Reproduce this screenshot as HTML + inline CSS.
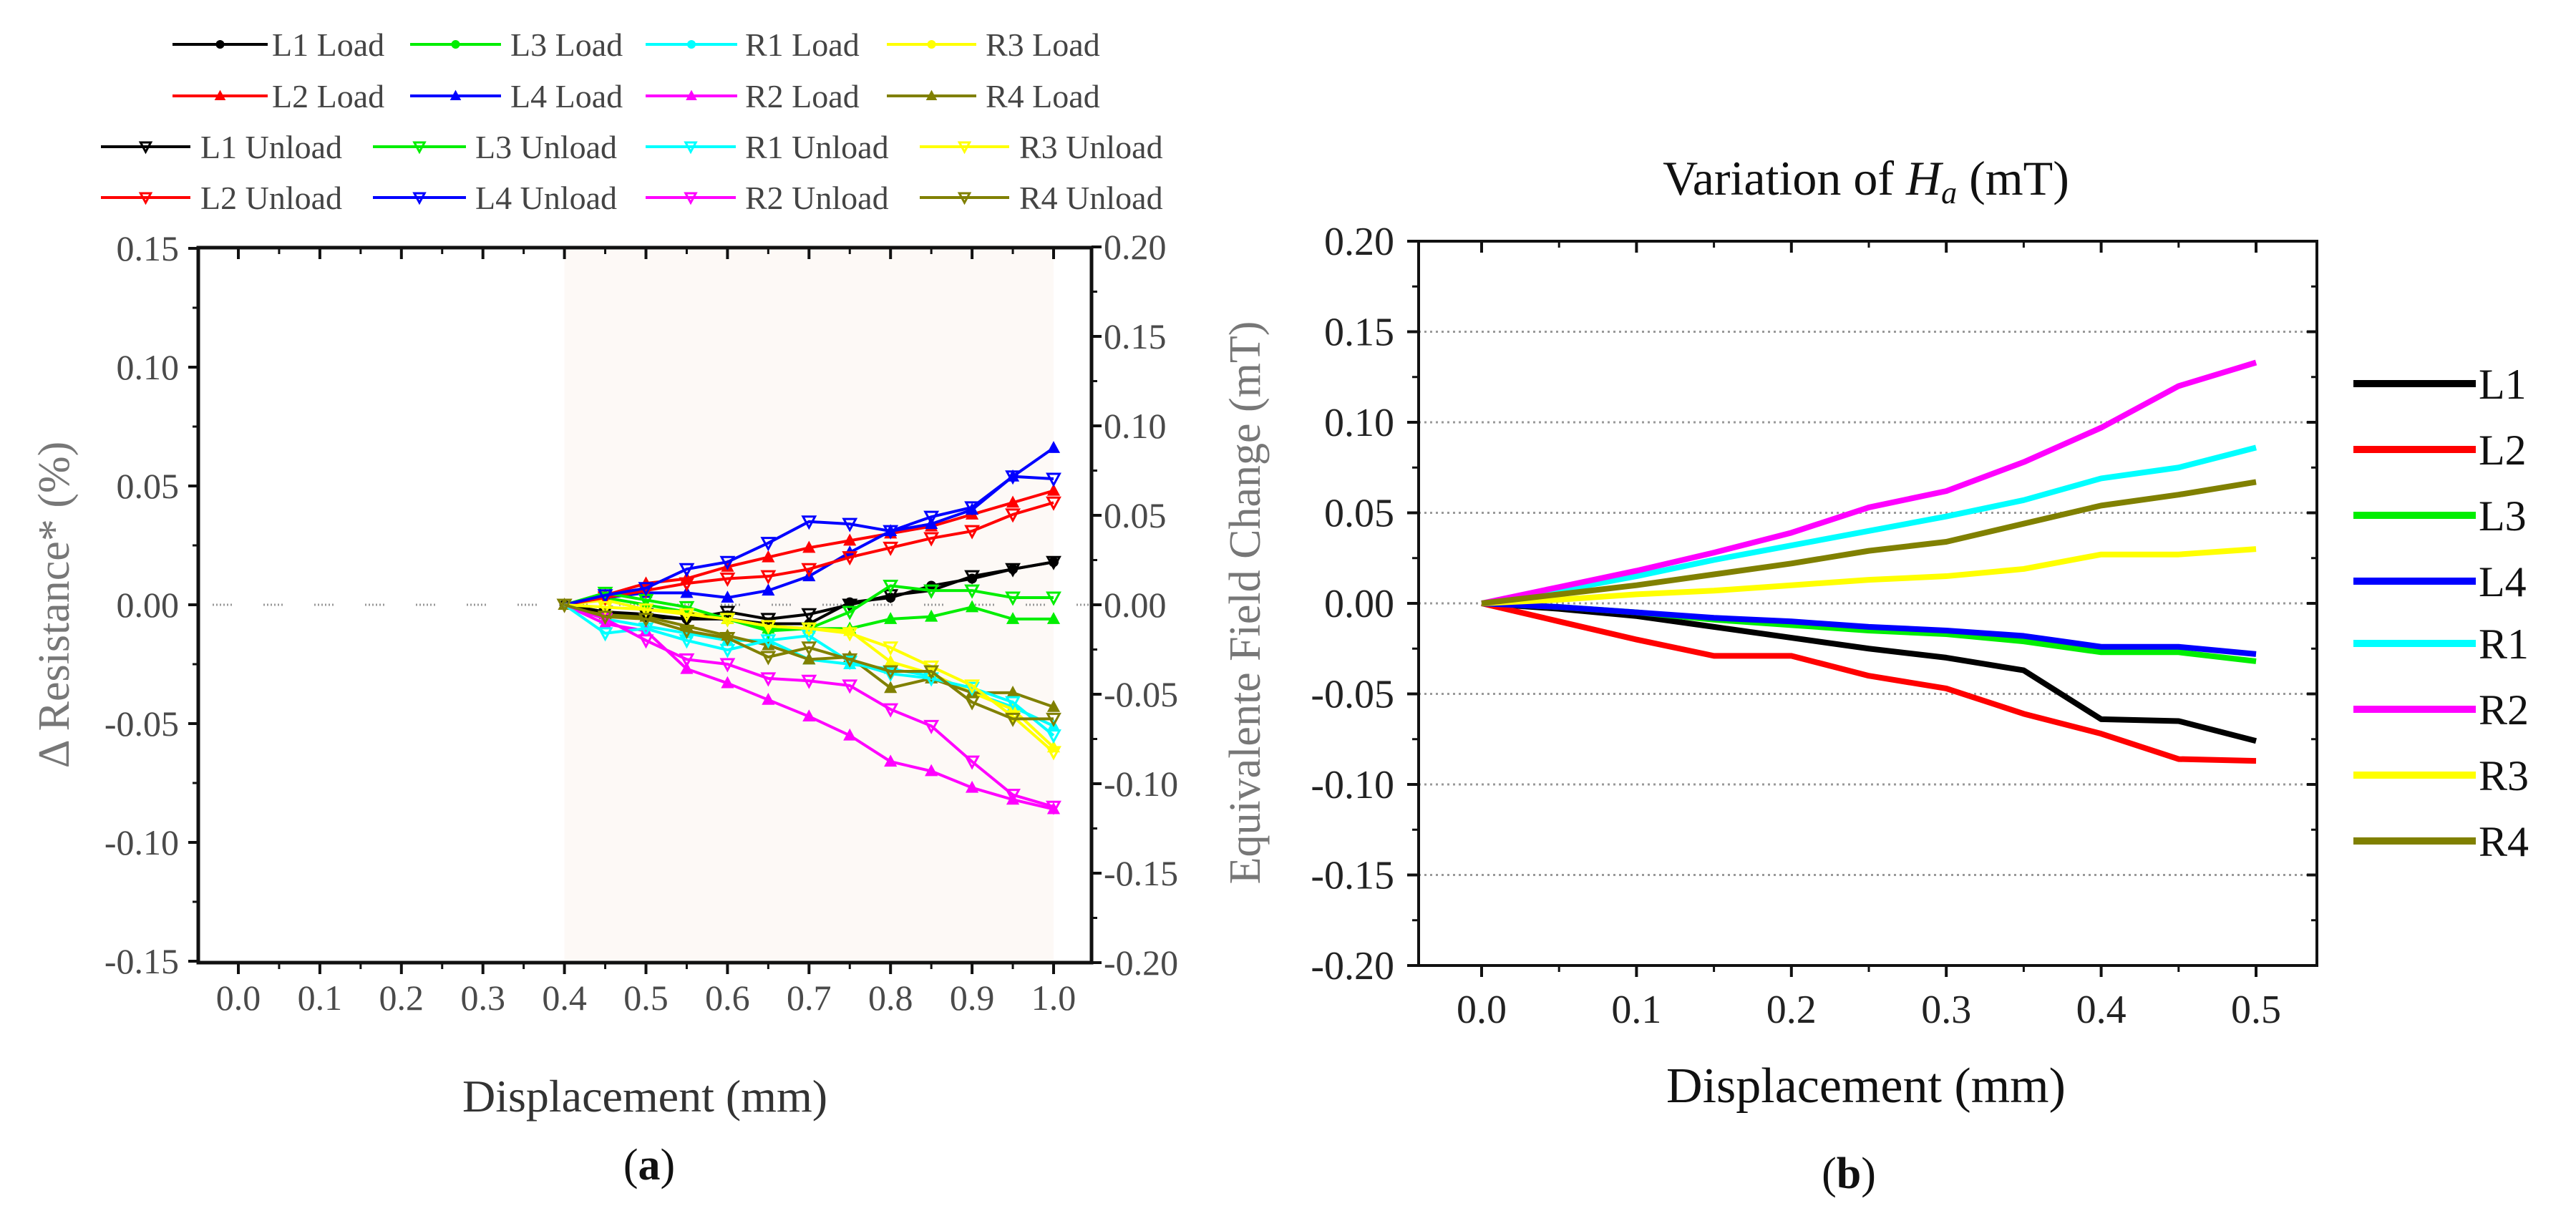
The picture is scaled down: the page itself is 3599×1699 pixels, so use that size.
<!DOCTYPE html>
<html><head><meta charset="utf-8"><style>
html,body{margin:0;padding:0;background:#fff;}
svg{display:block;font-family:"Liberation Serif",serif;}
</style></head><body>
<svg id="fig" width="3599" height="1699" viewBox="0 0 3599 1699" xmlns="http://www.w3.org/2000/svg">
<g id="ga"></g>
<g id="gb"></g>
</svg>
<script>
// ---------- Chart A data ----------
const aX = [0.4,0.45,0.5,0.55,0.6,0.65,0.7,0.75,0.8,0.85,0.9,0.95,1.0];
const aL1Load   = [0,-0.003,-0.005,-0.006,-0.006,-0.008,-0.008,0.001,0.003,0.008,0.011,0.015,0.018];
const aL1Unload = [0,-0.003,-0.004,-0.006,-0.003,-0.006,-0.004,0,0.004,0.006,0.012,0.015,0.018];
const aL2Load   = [0,0.004,0.009,0.011,0.016,0.020,0.024,0.027,0.030,0.033,0.038,0.043,0.048];
const aL2Unload = [0,0.003,0.006,0.009,0.011,0.012,0.015,0.020,0.024,0.028,0.031,0.038,0.043];
const aL3Load   = [0,0.003,0,-0.003,-0.006,-0.010,-0.010,-0.010,-0.006,-0.005,-0.001,-0.006,-0.006];
const aL3Unload = [0,0.005,0.002,-0.001,-0.006,-0.011,-0.010,-0.003,0.008,0.006,0.006,0.003,0.003];
const aL4Load   = [0,0.003,0.005,0.005,0.003,0.006,0.012,0.022,0.031,0.034,0.040,0.054,0.066];
const aL4Unload = [0,0.004,0.007,0.015,0.018,0.026,0.035,0.034,0.031,0.037,0.041,0.054,0.053];
const aR1Load   = [0,-0.006,-0.009,-0.012,-0.015,-0.015,-0.023,-0.025,-0.027,-0.030,-0.037,-0.043,-0.051];
const aR1Unload = [0,-0.012,-0.010,-0.015,-0.019,-0.015,-0.013,-0.024,-0.029,-0.031,-0.035,-0.041,-0.055];
const aR2Load   = [0,-0.008,-0.011,-0.027,-0.033,-0.040,-0.047,-0.055,-0.066,-0.070,-0.077,-0.082,-0.086];
const aR2Unload = [0,-0.006,-0.015,-0.023,-0.025,-0.031,-0.032,-0.034,-0.044,-0.051,-0.066,-0.080,-0.085];
const aR3Load   = [0,0.002,-0.002,-0.003,-0.006,-0.009,-0.010,-0.011,-0.024,-0.029,-0.037,-0.044,-0.060];
const aR3Unload = [0,-0.001,-0.002,-0.004,-0.006,-0.009,-0.010,-0.012,-0.018,-0.026,-0.034,-0.047,-0.062];
const aR4Load   = [0,-0.004,-0.005,-0.009,-0.013,-0.017,-0.023,-0.022,-0.035,-0.031,-0.037,-0.037,-0.043];
const aR4Unload = [0,-0.005,-0.006,-0.011,-0.014,-0.022,-0.018,-0.023,-0.028,-0.028,-0.041,-0.048,-0.048];
const aXTicks = ["0.0","0.1","0.2","0.3","0.4","0.5","0.6","0.7","0.8","0.9","1.0"];
const aYTicks = ["0.15","0.10","0.05","0.00","-0.05","-0.10","-0.15"];
const aY2Ticks = ["0.20","0.15","0.10","0.05","0.00","-0.05","-0.10","-0.15","-0.20"];

// ---------- Chart B data ----------
const bX = [0,0.05,0.1,0.15,0.2,0.25,0.3,0.35,0.4,0.45,0.5];
const bL1 = [0,-0.003,-0.007,-0.013,-0.019,-0.025,-0.030,-0.037,-0.064,-0.065,-0.076];
const bL2 = [0,-0.010,-0.020,-0.029,-0.029,-0.040,-0.047,-0.061,-0.072,-0.086,-0.087];
const bL3 = [0,-0.002,-0.005,-0.009,-0.012,-0.015,-0.017,-0.021,-0.027,-0.027,-0.032];
const bL4 = [0,-0.002,-0.005,-0.008,-0.010,-0.013,-0.015,-0.018,-0.024,-0.024,-0.028];
const bR1 = [0,0.007,0.015,0.024,0.032,0.040,0.048,0.057,0.069,0.075,0.086];
const bR2 = [0,0.009,0.018,0.028,0.039,0.053,0.062,0.078,0.097,0.120,0.133];
const bR3 = [0,0.002,0.005,0.007,0.010,0.013,0.015,0.019,0.027,0.027,0.030];
const bR4 = [0,0.005,0.010,0.016,0.022,0.029,0.034,0.044,0.054,0.060,0.067];
const bXTicks = ["0.0","0.1","0.2","0.3","0.4","0.5"];
const bYTicks = ["0.20","0.15","0.10","0.05","0.00","-0.05","-0.10","-0.15","-0.20"];

const NS="http://www.w3.org/2000/svg";
function mk(parent, tag, attrs, text){
  const e=document.createElementNS(NS,tag);
  for(const k in attrs) e.setAttribute(k,attrs[k]);
  if(text!==undefined) e.textContent=text;
  parent.appendChild(e); return e;
}

// ===== Chart A =====
const ga=document.getElementById('ga');
const AL=277, AR=1525, AT=346, AB=1345;
const ax=v=>333+(v-0)*(1472-333)/1.0;
const ay=v=>845-v*(166/0.05);
const ay2=v=>845-v*(125/0.05);
const gray="#4a4a4a";

let r=mk(ga,'rect',{x:ax(0.4),y:AT,width:ax(1.0)-ax(0.4),height:AB-AT,fill:'#fdf9f6'});


let zl=mk(ga,'line',{x1:AL+20,y1:ay(0),x2:AR,y2:ay(0),stroke:'#999','stroke-width':3,'stroke-dasharray':'2 3 2 3 2 3 2 3 2 3 2 44'});



const aSeries=[
 ['l1-load',aL1Load,'#000','dot'],['l2-load',aL2Load,'#ff0000','up'],['l3-load',aL3Load,'#00ee00','up'],['l4-load',aL4Load,'#0000ff','up'],
 ['r1-load',aR1Load,'#00ffff','up'],['r2-load',aR2Load,'#ff00ff','up'],['r3-load',aR3Load,'#ffff00','up'],['r4-load',aR4Load,'#808000','up'],
 ['l1-unload',aL1Unload,'#000','down'],['l2-unload',aL2Unload,'#ff0000','down'],['l3-unload',aL3Unload,'#00ee00','down'],['l4-unload',aL4Unload,'#0000ff','down'],
 ['r1-unload',aR1Unload,'#00ffff','down'],['r2-unload',aR2Unload,'#ff00ff','down'],['r3-unload',aR3Unload,'#ffff00','down'],['r4-unload',aR4Unload,'#808000','down']
];
function marker(g,x,y,c,t,s){
  if(t==='dot') return mk(g,'circle',{cx:x,cy:y,r:s*0.5,fill:c});
  if(t==='up') return mk(g,'path',{d:`M${x},${y-s*0.7}L${x+s*0.65},${y+s*0.5}L${x-s*0.65},${y+s*0.5}Z`,fill:c});
  return mk(g,'path',{d:`M${x-s*0.6},${y-s*0.5}L${x+s*0.6},${y-s*0.5}L${x},${y+s*0.6}Z`,fill:'none',stroke:c,'stroke-width':3});
}
aSeries.forEach(([n,vals,c,t])=>{
  const g=mk(ga,'g',{});
  
  
  const pts=vals.map((v,i)=>ax(aX[i])+','+ay(v)).join(' ');
  mk(g,'polyline',{points:pts,fill:'none',stroke:c,'stroke-width':4});
  vals.forEach((v,i)=>marker(g,ax(aX[i]),ay(v),c,t,14));
});

// frame & ticks
let fa=mk(ga,'rect',{x:AL,y:AT,width:AR-AL,height:AB-AT,fill:'none',stroke:'#111','stroke-width':5});


aXTicks.forEach((t,i)=>{
  const v=i*0.1, x=ax(v);
  mk(ga,'line',{x1:x,y1:AB,x2:x,y2:AB+16,stroke:'#111','stroke-width':4});
  mk(ga,'line',{x1:x,y1:AT,x2:x,y2:AT+16,stroke:'#111','stroke-width':4});
  if(i<10){const xm=ax(v+0.05);
    mk(ga,'line',{x1:xm,y1:AB,x2:xm,y2:AB+9,stroke:'#111','stroke-width':3});
    mk(ga,'line',{x1:xm,y1:AT,x2:xm,y2:AT+9,stroke:'#111','stroke-width':3});}
  const tx=mk(ga,'text',{x:x,y:1411,'text-anchor':'middle','font-size':50,fill:gray},t);
  
  
});
aYTicks.forEach((t,i)=>{
  const v=0.15-i*0.05, y=ay(v);
  mk(ga,'line',{x1:AL-14,y1:y,x2:AL,y2:y,stroke:'#111','stroke-width':4});
  if(i<6) mk(ga,'line',{x1:AL-8,y1:ay(v-0.025),x2:AL,y2:ay(v-0.025),stroke:'#111','stroke-width':3});
  const tx=mk(ga,'text',{x:250,y:y+17,'text-anchor':'end','font-size':50,fill:gray},t);
  
  
});
aY2Ticks.forEach((t,i)=>{
  const v=0.20-i*0.05, y=ay2(v);
  mk(ga,'line',{x1:AR,y1:y,x2:AR+14,y2:y,stroke:'#111','stroke-width':4});
  if(i<8) mk(ga,'line',{x1:AR,y1:ay2(v-0.025),x2:AR+8,y2:ay2(v-0.025),stroke:'#111','stroke-width':3});
  const tx=mk(ga,'text',{x:1542,y:y+17,'text-anchor':'start','font-size':50,fill:gray},t);
  
  
});
let t1=mk(ga,'text',{x:901,y:1553,'text-anchor':'middle','font-size':64,fill:'#333'},'Displacement (mm)');


let t2=mk(ga,'text',{x:0,y:0,'text-anchor':'middle','font-size':62,fill:'#777',transform:'translate(96,845) rotate(-90)'},'Δ Resistance* (%)');


let t3=mk(ga,'text',{x:0,y:0,'text-anchor':'middle','font-size':62,fill:'#777',transform:'translate(1760,842) rotate(-90)'},'Equivalente Field Change (mT)');


let t4=mk(ga,'text',{x:907,y:1648,'text-anchor':'middle','font-size':62,fill:'#111'},'(');
t4.textContent='';
mk(t4,'tspan',{},'(');mk(t4,'tspan',{'font-weight':'bold'},'a');mk(t4,'tspan',{},')');



// legend A
const legA=[
 [62,241,374,380,'L1 Load','#000','dot'],[62,573,700,713,'L3 Load','#00ee00','dot'],[62,902,1030,1041,'R1 Load','#00ffff','dot'],[62,1239,1364,1377,'R3 Load','#ffff00','dot'],
 [134,241,374,380,'L2 Load','#ff0000','up'],[134,573,700,713,'L4 Load','#0000ff','up'],[134,902,1030,1041,'R2 Load','#ff00ff','up'],[134,1239,1364,1377,'R4 Load','#808000','up'],
 [205,141,266,280,'L1 Unload','#000','down'],[205,521,651,664,'L3 Unload','#00ee00','down'],[205,902,1028,1041,'R1 Unload','#00ffff','down'],[205,1285,1410,1424,'R3 Unload','#ffff00','down'],
 [276,141,266,280,'L2 Unload','#ff0000','down'],[276,521,651,664,'L4 Unload','#0000ff','down'],[276,902,1028,1041,'R2 Unload','#ff00ff','down'],[276,1285,1410,1424,'R4 Unload','#808000','down']
];
legA.forEach(([y,x1,x2,tx,lab,c,t])=>{
  const g=mk(ga,'g',{});
  
  
  mk(g,'line',{x1:x1,y1:y,x2:x2,y2:y,stroke:c,'stroke-width':4});
  marker(g,(x1+x2)/2,y,c,t,12);
  mk(g,'text',{x:tx,y:y+16,'font-size':46,fill:'#444'},lab);
});

// ===== Chart B =====
const gb=document.getElementById('gb');
const BL=1982, BR=3237, BT=337, BB=1349;
const bx=v=>2070+v*(3152-2070)/0.5;
const by=v=>843-v*(126.5/0.05);
[0.15,0.10,0.05,0,-0.05,-0.10,-0.15].forEach(v=>{
  const l=mk(gb,'line',{x1:BL,y1:by(v),x2:BR,y2:by(v),stroke:'#999','stroke-width':3,'stroke-dasharray':'3 5'});
  
  
});
const bSeries=[['L1',bL1,'#000'],['L2',bL2,'#ff0000'],['L3',bL3,'#00ee00'],['L4',bL4,'#0000ff'],['R1',bR1,'#00ffff'],['R2',bR2,'#ff00ff'],['R3',bR3,'#ffff00'],['R4',bR4,'#808000']];
bSeries.forEach(([n,vals,c])=>{
  const p=mk(gb,'polyline',{points:vals.map((v,i)=>bx(bX[i])+','+by(v)).join(' '),fill:'none',stroke:c,'stroke-width':8,'stroke-linejoin':'round'});
  
  
});
let fb=mk(gb,'rect',{x:BL,y:BT,width:BR-BL,height:BB-BT,fill:'none',stroke:'#111','stroke-width':4});


bXTicks.forEach((t,i)=>{
  const v=i*0.1,x=bx(v);
  mk(gb,'line',{x1:x,y1:BB,x2:x,y2:BB+16,stroke:'#111','stroke-width':4});
  mk(gb,'line',{x1:x,y1:BT,x2:x,y2:BT+16,stroke:'#111','stroke-width':4});
  if(i<5){const xm=bx(v+0.05);
    mk(gb,'line',{x1:xm,y1:BB,x2:xm,y2:BB+9,stroke:'#111','stroke-width':3});
    mk(gb,'line',{x1:xm,y1:BT,x2:xm,y2:BT+9,stroke:'#111','stroke-width':3});}
  const tx=mk(gb,'text',{x:x,y:1429,'text-anchor':'middle','font-size':56,fill:'#222'},t);
  
  
});
bYTicks.forEach((t,i)=>{
  const v=0.20-i*0.05,y=by(v);
  mk(gb,'line',{x1:BL-16,y1:y,x2:BL,y2:y,stroke:'#111','stroke-width':4});
  mk(gb,'line',{x1:BR-14,y1:y,x2:BR,y2:y,stroke:'#111','stroke-width':4});
  if(i<8){mk(gb,'line',{x1:BL-9,y1:by(v-0.025),x2:BL,y2:by(v-0.025),stroke:'#111','stroke-width':3});
    mk(gb,'line',{x1:BR-8,y1:by(v-0.025),x2:BR,y2:by(v-0.025),stroke:'#111','stroke-width':3});}
  const tx=mk(gb,'text',{x:1948,y:y+19,'text-anchor':'end','font-size':56,fill:'#222'},t);
  
  
});
let tb=mk(gb,'text',{x:2607,y:272,'text-anchor':'middle','font-size':68,fill:'#111'},'Variation of ');
mk(tb,'tspan',{'font-style':'italic'},'H');
mk(tb,'tspan',{'font-style':'italic','font-size':44,dy:12},'a');
mk(tb,'tspan',{dy:-12},' (mT)');


let xb=mk(gb,'text',{x:2607,y:1540,'text-anchor':'middle','font-size':70,fill:'#111'},'Displacement (mm)');


let pb=mk(gb,'text',{x:2583,y:1660,'text-anchor':'middle','font-size':62,fill:'#111'},'');
mk(pb,'tspan',{},'(');mk(pb,'tspan',{'font-weight':'bold'},'b');mk(pb,'tspan',{},')');


const legBY=[536,628,720,812,899,991,1083,1175];
bSeries.forEach(([n,vals,c],i)=>{
  const g=mk(gb,'g',{});
  
  
  mk(g,'line',{x1:3288,y1:legBY[i],x2:3459,y2:legBY[i],stroke:c,'stroke-width':10});
  mk(g,'text',{x:3463,y:legBY[i]+21,'font-size':60,fill:'#111'},n);
});
</script>
</body></html>
